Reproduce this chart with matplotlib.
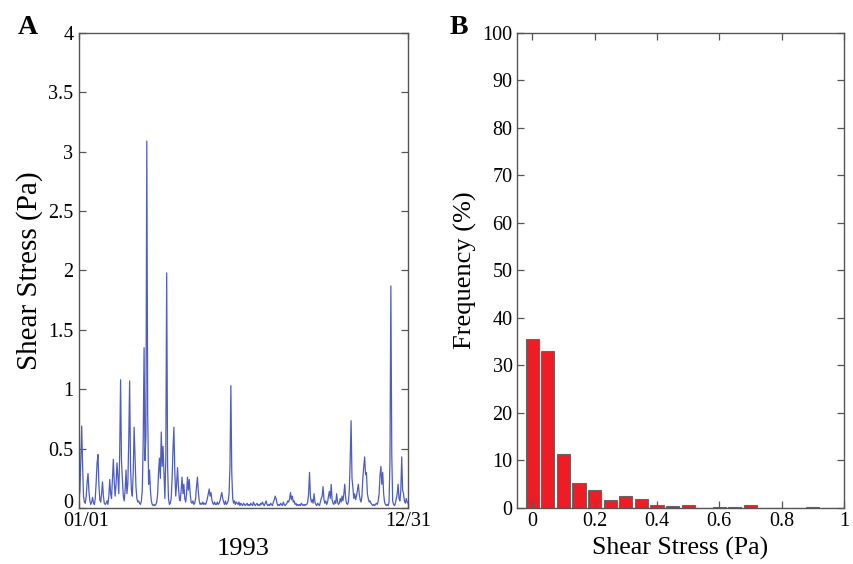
import matplotlib
matplotlib.use("Agg")
import matplotlib.pyplot as plt
import matplotlib.transforms as mtransforms
import numpy as np

plt.rcParams['font.family'] = ['Liberation Serif', 'DejaVu Serif']

# daily shear stress for 1993 (Pa), one value per day
stress = [
    0.05, 0.15, 0.40, 0.69, 0.35, 0.10, 0.05, 0.04, 0.10, 0.22,
    0.29, 0.14, 0.06, 0.03, 0.05, 0.09, 0.04, 0.03, 0.08, 0.22,
    0.38, 0.45, 0.20, 0.07, 0.05, 0.12, 0.22, 0.10, 0.04, 0.03,
    0.04, 0.06, 0.03, 0.10, 0.24, 0.12, 0.08, 0.25, 0.41, 0.22,
    0.10, 0.20, 0.38, 0.27, 0.12, 0.45, 1.08, 0.40, 0.24, 0.10,
    0.06, 0.15, 0.32, 0.12, 0.20, 0.55, 1.07, 0.35, 0.15, 0.10,
    0.30, 0.68, 0.42, 0.18, 0.08, 0.05, 0.06, 0.04, 0.03, 0.06,
    0.15, 0.55, 1.35, 0.40, 0.60, 3.09, 0.80, 0.20, 0.32, 0.15,
    0.06, 0.03, 0.02, 0.03, 0.02, 0.03, 0.05, 0.12, 0.30, 0.42,
    0.25, 0.64, 0.35, 0.52, 0.30, 0.08, 0.40, 1.98, 0.35, 0.08,
    0.03, 0.04, 0.08, 0.25, 0.50, 0.68, 0.30, 0.10, 0.20, 0.34,
    0.18, 0.08, 0.06, 0.15, 0.26, 0.12, 0.20, 0.08, 0.05, 0.12,
    0.26, 0.15, 0.24, 0.12, 0.05, 0.04, 0.06, 0.03, 0.04, 0.08,
    0.18, 0.26, 0.14, 0.06, 0.03, 0.04, 0.03, 0.05, 0.03, 0.04,
    0.03, 0.05, 0.08, 0.12, 0.16, 0.10, 0.13, 0.07, 0.04, 0.03,
    0.05, 0.03, 0.03, 0.05, 0.03, 0.04, 0.06, 0.10, 0.13, 0.08,
    0.05, 0.03, 0.06, 0.03, 0.04, 0.06, 0.12, 0.35, 1.03, 0.30,
    0.08, 0.04, 0.06, 0.03, 0.05, 0.04, 0.03, 0.05, 0.02, 0.04,
    0.03, 0.02, 0.04, 0.03, 0.02, 0.03, 0.04, 0.02, 0.03, 0.02,
    0.04, 0.03, 0.02, 0.05, 0.03, 0.02, 0.03, 0.04, 0.02, 0.03,
    0.02, 0.04, 0.03, 0.05, 0.03, 0.02, 0.04, 0.06, 0.03, 0.02,
    0.03, 0.02, 0.04, 0.03, 0.02, 0.05, 0.07, 0.10, 0.08, 0.04,
    0.02, 0.03, 0.02, 0.04, 0.03, 0.02, 0.05, 0.03, 0.02, 0.03,
    0.04, 0.06, 0.05, 0.08, 0.13, 0.07, 0.10, 0.05, 0.06, 0.03,
    0.04, 0.02, 0.03, 0.02, 0.03, 0.02, 0.04, 0.03, 0.02, 0.03,
    0.02, 0.03, 0.03, 0.05, 0.12, 0.30, 0.10, 0.05, 0.07, 0.04,
    0.12, 0.05, 0.03, 0.02, 0.04, 0.03, 0.02, 0.05, 0.08, 0.10,
    0.18, 0.07, 0.04, 0.06, 0.03, 0.05, 0.10, 0.14, 0.08, 0.20,
    0.07, 0.04, 0.03, 0.06, 0.04, 0.12, 0.05, 0.03, 0.04, 0.08,
    0.05, 0.10, 0.06, 0.12, 0.20, 0.08, 0.04, 0.03, 0.05, 0.15,
    0.40, 0.735, 0.25, 0.17, 0.08, 0.12, 0.07, 0.10, 0.15, 0.20,
    0.12, 0.07, 0.05, 0.10, 0.25, 0.35, 0.43, 0.28, 0.30, 0.12,
    0.08, 0.05, 0.06, 0.04, 0.03, 0.02, 0.03, 0.02, 0.03, 0.04,
    0.03, 0.06, 0.12, 0.28, 0.35, 0.20, 0.30, 0.12, 0.05, 0.03,
    0.02, 0.03, 0.02, 0.05, 0.40, 1.87, 0.45, 0.06, 0.03, 0.02,
    0.04, 0.08, 0.12, 0.20, 0.08, 0.06, 0.15, 0.43, 0.15, 0.12,
    0.06, 0.04, 0.08, 0.05, 0.04,
]
date_ticks = ['01/01', '12/31']

# histogram of shear stress, bin centres (Pa) and frequency (%)
bin_centres = [0.00, 0.05, 0.10, 0.15, 0.20, 0.25, 0.30, 0.35, 0.40, 0.45,
               0.50, 0.55, 0.60, 0.65, 0.70, 0.75, 0.80, 0.85, 0.90, 0.95]
frequency = [35.5, 33.0, 11.3, 5.3, 3.7, 1.7, 2.5, 1.8, 0.6, 0.4,
             0.6, 0.1, 0.2, 0.3, 0.6, 0.1, 0.1, 0.1, 0.3, 0.1]

fig = plt.figure(figsize=(8.54, 5.64), dpi=100)
axA = fig.add_axes([0.0925, 0.0993, 0.3853, 0.8422])
axB = fig.add_axes([0.605, 0.0993, 0.3833, 0.8422])

spine_col = '#555555'
for ax in (axA, axB):
    for s in ax.spines.values():
        s.set_color(spine_col)
        s.set_linewidth(1.0)
    ax.tick_params(direction='in', length=5, width=0.9, color=spine_col,
                   top=True, right=True, labelsize=14.5, pad=3)

# panel A: time series
days = np.arange(len(stress))
axA.plot(days, stress, color='#4d5dc0', linewidth=0.9)
axA.set_xlim(0, len(stress) - 1)
axA.set_ylim(0, 4)
axA.set_yticks(np.arange(0, 4.01, 0.5))
axA.set_yticklabels(['0', '0.5', '1', '1.5', '2', '2.5', '3', '3.5', '4'])
axA.set_xticks([0, len(stress) - 1])
axA.set_xticklabels(date_ticks)
axA.tick_params(axis='y', pad=4)
axA.set_ylabel('Shear Stress (Pa)', fontsize=21, labelpad=4)
axA.set_xlabel('1993', fontsize=19, labelpad=5)

# lift the zero label and nudge the first date right so they don't collide
zero_lbl = axA.get_yticklabels()[0]
zero_lbl.set_transform(zero_lbl.get_transform() +
                       mtransforms.ScaledTranslation(0, 5 / 72, fig.dpi_scale_trans))
first_date = axA.get_xticklabels()[0]
first_date.set_transform(first_date.get_transform() +
                         mtransforms.ScaledTranslation(5 / 72, 0, fig.dpi_scale_trans))

# panel B: frequency histogram
axB.bar(bin_centres, frequency, width=0.042, color='#ee1c24',
        edgecolor='#666666', linewidth=0.8)
axB.set_xlim(-0.05, 1.0)
axB.set_ylim(0, 100)
axB.set_yticks(np.arange(0, 101, 10))
axB.set_xticks([0, 0.2, 0.4, 0.6, 0.8, 1.0])
axB.set_xticklabels(['0', '0.2', '0.4', '0.6', '0.8', '1'])
axB.set_ylabel('Frequency (%)', fontsize=19, labelpad=4)
axB.set_xlabel('Shear Stress (Pa)', fontsize=18.5, labelpad=4)

fig.text(0.021, 0.94, 'A', fontsize=20, fontweight='bold')
fig.text(0.527, 0.94, 'B', fontsize=20, fontweight='bold')

fig.savefig('out.png', dpi=100)
